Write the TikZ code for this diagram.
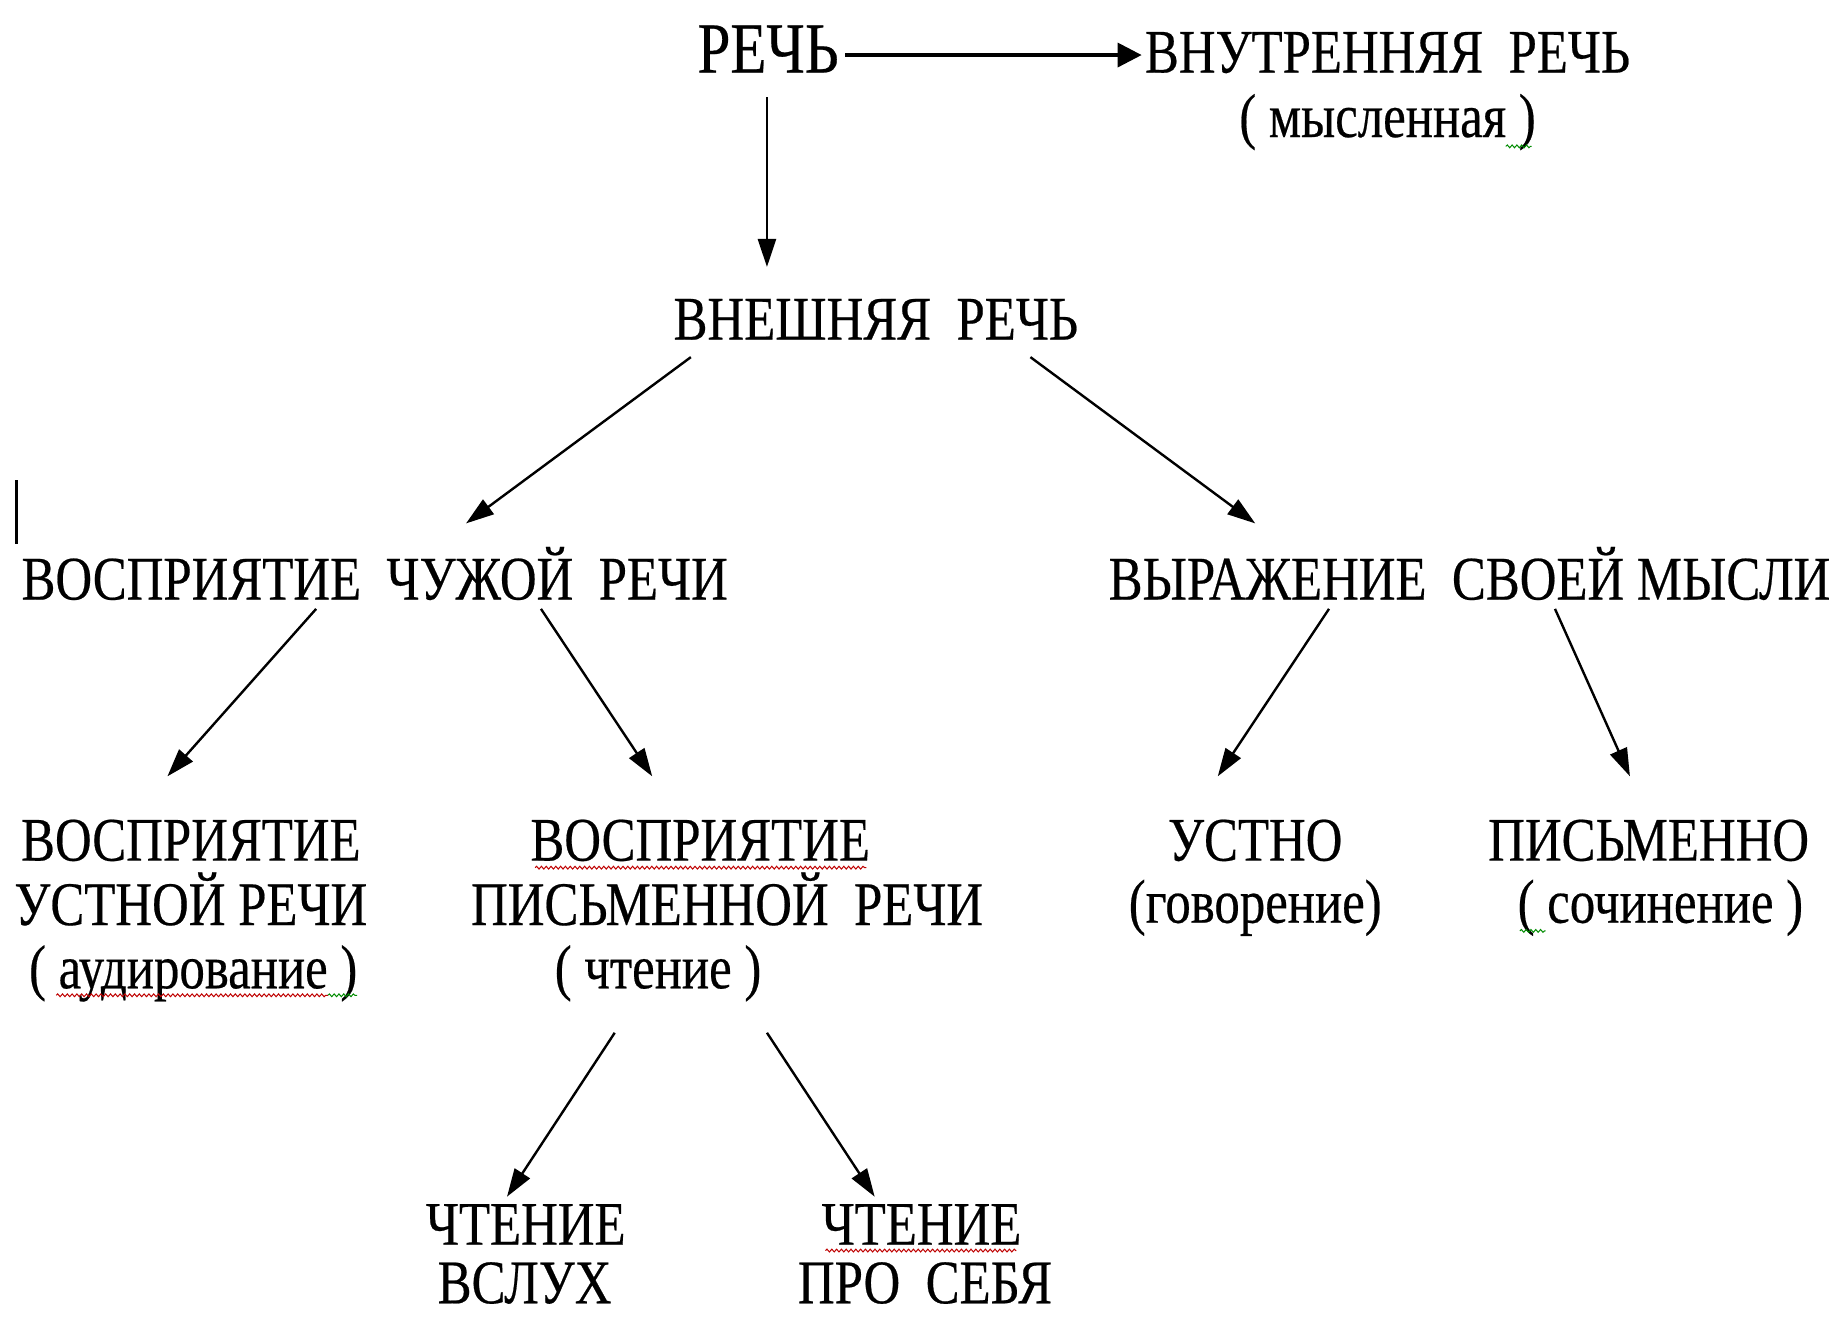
\documentclass[tikz,border=0pt]{standalone}
\usepackage{fontspec}
\setmainfont{Liberation Serif}
\newfontfamily\cond[FakeStretch=0.82,FakeBold=0.35]{Liberation Serif}
\usetikzlibrary{arrows.meta,decorations.pathmorphing}
\begin{document}
\begin{tikzpicture}[x=0.58545pt,y=-0.58545pt,
  lbl/.style={inner sep=0pt, anchor=base, font=\cond\fontsize{31}{31}\selectfont},
  big/.style={lbl, font=\cond\fontsize{36}{36}\selectfont},
  arr/.style={line width=1.2pt, -{Triangle[length=14pt,width=9pt]}},
  harr/.style={line width=1.7pt, -{Triangle[length=12pt,width=12pt]}},
  wavyr/.style={draw=red!75!black, line width=0.5pt, decorate, decoration={snake,amplitude=0.7pt,segment length=2.4pt}},
  wavyg/.style={wavyr, draw=green!55!black}]
\useasboundingbox (0,0) rectangle (1568,1125);
\fill[white] (0,0) rectangle (1568,1125);

\node[big] (rech) at (656,62) {РЕЧЬ};
\node[lbl] (vnutr) at (1185,62) {ВНУТРЕННЯЯ\ \ РЕЧЬ};
\node[lbl] (mysl) at (1185,117) {( мысленная )};
\node[lbl] (vnesh) at (748,290) {ВНЕШНЯЯ\ \ РЕЧЬ};
\node[lbl] (vosp) at (320,512) {ВОСПРИЯТИЕ\ \ ЧУЖОЙ\ \ РЕЧИ};
\node[lbl] (vyr) at (1255,512) {ВЫРАЖЕНИЕ\ \ СВОЕЙ МЫСЛИ};
\node[lbl] (vu1) at (163,735) {ВОСПРИЯТИЕ};
\node[lbl] (vu2) at (163,790) {УСТНОЙ РЕЧИ};
\node[lbl] (vu3) at (165,844) {( аудирование )};
\node[lbl] (vp1) at (598,735) {ВОСПРИЯТИЕ};
\node[lbl] (vp2) at (621,790) {ПИСЬМЕННОЙ\ \ РЕЧИ};
\node[lbl] (vp3) at (562,844) {( чтение )};
\node[lbl] (us1) at (1072,735) {УСТНО};
\node[lbl] (us2) at (1072,788) {(говорение)};
\node[lbl] (pi1) at (1408,735) {ПИСЬМЕННО};
\node[lbl] (pi2) at (1418,788) {( сочинение )};
\node[lbl] (cv1) at (449,1063) {ЧТЕНИЕ};
\node[lbl] (cv2) at (448,1113) {ВСЛУХ};
\node[lbl] (cs1) at (787,1063) {ЧТЕНИЕ};
\node[lbl] (cs2) at (790,1113) {ПРО\ \ СЕБЯ};

% arrow end points
\coordinate (r-e) at (722,47);   \coordinate (vn-w) at (975,47);
\coordinate (r-s) at (655,83);   \coordinate (vn-n) at (655,228);
\coordinate (ve-l) at (590,305); \coordinate (vo-n) at (398,447);
\coordinate (ve-r) at (880,305); \coordinate (vy-n) at (1072,447);
\coordinate (vo-l) at (270,520); \coordinate (vu-n) at (143,663);
\coordinate (vo-r) at (462,520); \coordinate (vp-n) at (557,663);
\coordinate (vy-l) at (1135,520);\coordinate (us-n) at (1040,663);
\coordinate (vy-r) at (1328,520);\coordinate (pi-n) at (1392,663);
\coordinate (vp-l) at (525,882); \coordinate (cv-n) at (433,1022);
\coordinate (vp-r) at (655,882); \coordinate (cs-n) at (747,1022);

\draw[harr] (r-e) -- (vn-w);
\draw[arr] (r-s) -- (vn-n);
\draw[arr] (ve-l) -- (vo-n);
\draw[arr] (ve-r) -- (vy-n);
\draw[arr] (vo-l) -- (vu-n);
\draw[arr] (vo-r) -- (vp-n);
\draw[arr] (vy-l) -- (us-n);
\draw[arr] (vy-r) -- (pi-n);
\draw[arr] (vp-l) -- (cv-n);
\draw[arr] (vp-r) -- (cs-n);

% text cursor
\draw[line width=1.2pt] (14,410) -- (14,465);

% spell-check underlines
\draw[wavyr] (457,741) -- (740,741);
\draw[wavyr] (48,850) -- (280,850);
\draw[wavyg] (280,850) -- (305,850);
\draw[wavyr] (705,1068) -- (868,1068);
\draw[wavyg] (1286,125) -- (1308,125);
\draw[wavyg] (1298,795) -- (1320,795);
\end{tikzpicture}
\end{document}
